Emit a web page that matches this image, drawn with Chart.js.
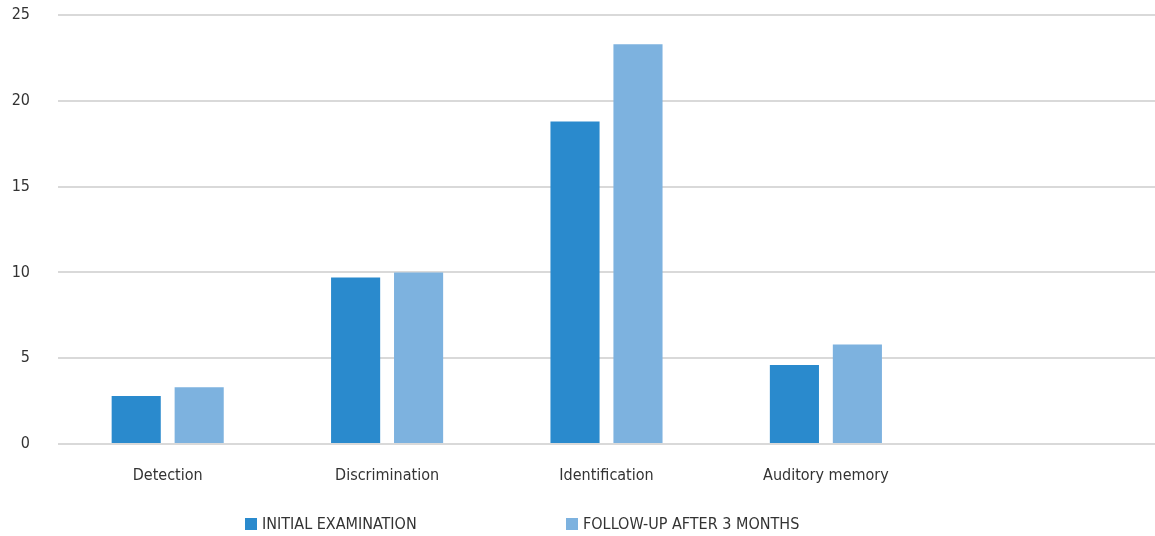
<!DOCTYPE html>
<html>
<head>
<meta charset="utf-8">
<script src="https://cdn.jsdelivr.net/npm/chart.js@4.4.1/dist/chart.umd.min.js"></script>
<style>
  html, body { margin: 0; padding: 0; background: #fff; overflow: hidden; }
  #wrap { width: 1155px; height: 536px; }
</style>
</head>
<body>
<div id="wrap"><canvas id="myChart"></canvas></div>
<script>
// categories (last slot is empty in the original)
const categories = ["Detection", "Discrimination", "Identification", "Auditory memory", ""];
const initialExam = [2.8, 9.7, 18.8, 4.6, null];
const followUp = [3.3, 10.0, 23.3, 5.8, null];
const seriesNames = ["INITIAL EXAMINATION", "FOLLOW-UP AFTER 3 MONTHS"];
const yTicks = [0, 5, 10, 15, 20, 25];

const FONT = '"Liberation Sans Narrow", "DejaVu Sans Condensed", sans-serif';

// legend drawn by hand so the items sit where they do in the original
const bottomLegend = {
  id: "bottomLegend",
  afterDraw(chart) {
    const ctx = chart.ctx;
    const xs = [245, 566];
    const y = 524;
    ctx.save();
    ctx.font = "16px " + FONT;
    ctx.textBaseline = "middle";
    chart.data.datasets.forEach((ds, i) => {
      ctx.fillStyle = ds.backgroundColor;
      ctx.fillRect(xs[i], y - 6, 12, 12);
      ctx.fillStyle = "#333333";
      ctx.fillText(ds.label, xs[i] + 17, y + 1);
    });
    ctx.restore();
  }
};

const ctx = document.getElementById("myChart").getContext("2d");
new Chart(ctx, {
  type: "bar",
  data: {
    labels: categories,
    datasets: [
      {
        label: seriesNames[0],
        data: initialExam,
        backgroundColor: "#2a8acd"
      },
      {
        label: seriesNames[1],
        data: followUp,
        backgroundColor: "#7db2df"
      }
    ]
  },
  options: {
    responsive: true,
    maintainAspectRatio: false,
    animation: false,
    categoryPercentage: 0.574,
    barPercentage: 0.78,
    layout: { padding: { top: 15, right: 0, bottom: 42, left: 0 } },
    plugins: {
      legend: { display: false },
      tooltip: { enabled: false }
    },
    scales: {
      x: {
        grid: { display: false, drawTicks: false },
        border: { display: false },
        ticks: {
          color: "#333333",
          font: { family: FONT, size: 16 },
          padding: 22
        },
        afterFit(scale) { scale.height = 50; }
      },
      y: {
        min: 0,
        max: 25,
        afterBuildTicks(scale) { scale.ticks = yTicks.map(v => ({ value: v })); },
        grid: { color: "#d9d9d9", lineWidth: 2, drawTicks: false },
        border: { display: false },
        ticks: {
          color: "#333333",
          font: { family: FONT, size: 16 },
          padding: 28
        },
        afterFit(scale) {
          scale.width = 58;
          scale.paddingTop = 0;
          scale.paddingBottom = 0;
        }
      }
    }
  },
  plugins: [bottomLegend]
});
</script>
</body>
</html>
